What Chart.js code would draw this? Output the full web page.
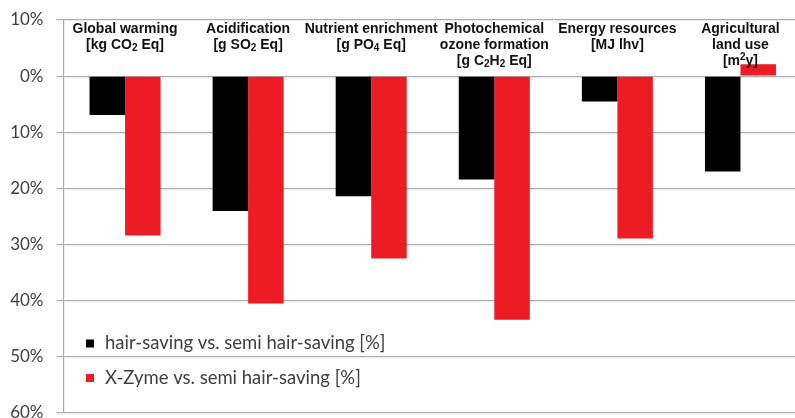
<!DOCTYPE html>
<html>
<head>
<meta charset="utf-8">
<script src="https://cdn.jsdelivr.net/npm/chart.js@4.4.1/dist/chart.umd.min.js"></script>
<style>
  html, body { margin: 0; padding: 0; background: #ffffff; overflow: hidden; width: 795px; height: 418px; }
  #wrap { position: absolute; left: 0; top: 0; width: 802px; height: 440px; }
</style>
</head>
<body>
<div id="wrap"><canvas id="c" width="802" height="440"></canvas></div>
<script>
// "_x" = subscript character, "^x" = superscript character
const categories = [
  ["Global warming", "[kg CO_2 Eq]"],
  ["Acidification", "[g SO_2 Eq]"],
  ["Nutrient enrichment", "[g PO_4 Eq]"],
  ["Photochemical", "ozone formation", "[g C_2H_2 Eq]"],
  ["Energy resources", "[MJ lhv]"],
  ["Agricultural", "land use", "[m^2y]"]
];
const seriesNames = ["hair-saving vs. semi hair-saving [%]", "X-Zyme vs. semi hair-saving [%]"];
const hairSaving = [-6.9, -24.0, -21.4, -18.4, -4.5, -17.0];
const xZyme = [-28.4, -40.5, -32.5, -43.4, -28.9, 2.1];
const yTickValues = [10, 0, -10, -20, -30, -40, -50, -60];

const seriesColors = ["#000000", "#ED1C24"];

function parseSegments(s) {
  const segs = [];
  let buf = '';
  for (let i = 0; i < s.length; i++) {
    const ch = s[i];
    if ((ch === '_' || ch === '^') && i + 1 < s.length) {
      if (buf) { segs.push({ t: buf, k: 'n' }); buf = ''; }
      segs.push({ t: s[i + 1], k: ch === '_' ? 'sub' : 'sup' });
      i++;
    } else buf += ch;
  }
  if (buf) segs.push({ t: buf, k: 'n' });
  return segs;
}

const categoryLabelsPlugin = {
  id: 'categoryLabels',
  afterDatasetsDraw(chart) {
    const ctx = chart.ctx;
    const xs = chart.scales.x;
    const top = chart.chartArea.top;
    const fam = '"Liberation Sans", Arial, sans-serif';
    const fN = 'bold 14px ' + fam, fS = 'bold 10px ' + fam;
    ctx.save();
    ctx.fillStyle = '#111111';
    ctx.textAlign = 'left';
    ctx.textBaseline = 'middle';
    categories.forEach((lines, i) => {
      const cx = xs.getPixelForValue(i);
      lines.forEach((ln, j) => {
        const segs = parseSegments(ln);
        let w = 0;
        segs.forEach(sg => { ctx.font = sg.k === 'n' ? fN : fS; sg.w = ctx.measureText(sg.t).width; w += sg.w; });
        let x = cx - w / 2;
        const y = top + 9.5 + j * 16;
        segs.forEach(sg => {
          ctx.font = sg.k === 'n' ? fN : fS;
          const dy = sg.k === 'sub' ? 3 : (sg.k === 'sup' ? -4 : 0);
          ctx.fillText(sg.t, x, y + dy);
          x += sg.w;
        });
      });
    });
    ctx.restore();
  }
};

const innerLegendPlugin = {
  id: 'innerLegend',
  afterDatasetsDraw(chart) {
    const ctx = chart.ctx;
    const area = chart.chartArea;
    ctx.save();
    ctx.font = '18.5px Lato, "Open Sans", sans-serif';
    ctx.textBaseline = 'middle';
    ctx.textAlign = 'left';
    chart.data.datasets.forEach((ds, i) => {
      const y = area.top + 323.5 + i * 34.5;
      ctx.fillStyle = ds.backgroundColor;
      ctx.fillRect(area.left + 22.5, y - 4, 8, 8);
      ctx.fillStyle = '#404040';
      ctx.fillText(ds.label, area.left + 41.5, y);
    });
    ctx.restore();
  }
};

new Chart(document.getElementById('c'), {
  type: 'bar',
  data: {
    labels: categories.map(l => l.join(' ')),
    datasets: [
      { label: seriesNames[0], data: hairSaving, backgroundColor: seriesColors[0], borderWidth: 0 },
      { label: seriesNames[1], data: xZyme, backgroundColor: seriesColors[1], borderWidth: 0 }
    ]
  },
  options: {
    responsive: false,
    animation: false,
    devicePixelRatio: 1,
    layout: { padding: { top: 20, bottom: 27, left: 0, right: 0 } },
    plugins: {
      legend: { display: false },
      tooltip: { enabled: false }
    },
    datasets: {
      bar: { categoryPercentage: 0.577, barPercentage: 1.0 }
    },
    scales: {
      x: {
        display: false,
        grid: { display: false },
        ticks: { autoSkip: false }
      },
      y: {
        min: -60,
        max: 10,
        afterBuildTicks(scale) {
          scale.ticks = yTickValues.map(v => ({ value: v }));
        },
        afterFit(scale) { scale.width = 63.5; },
        ticks: {
          callback: (v) => Math.abs(v) + '%',
          font: { family: 'Lato, "Open Sans", sans-serif', size: 17, lineHeight: 0.1 },
          color: '#404040',
          padding: 13
        },
        grid: {
          color: '#ababab',
          lineWidth: 1.2,
          tickLength: 7,
          drawTicks: true
        },
        border: { display: true, color: '#ababab', width: 1.2 }
      }
    }
  },
  plugins: [categoryLabelsPlugin, innerLegendPlugin]
});
</script>
</body>
</html>
